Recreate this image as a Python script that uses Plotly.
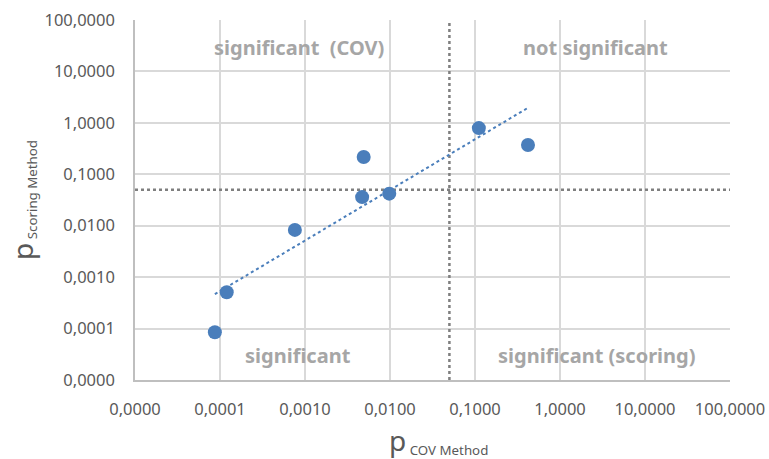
import numpy as np
import plotly.graph_objects as go

# data
p_cov = [8.7e-5, 1.2e-4, 7.6e-4, 4.7e-3, 4.9e-3, 9.8e-3, 0.111, 0.42]
p_scoring = [8.5e-5, 5.1e-4, 8.3e-3, 0.036, 0.217, 0.042, 0.79, 0.37]
threshold = 0.05
tick_vals = [1e-5, 1e-4, 1e-3, 1e-2, 1e-1, 1, 10, 100]
tick_text = ["0,0000", "0,0001", "0,0010", "0,0100", "0,1000", "1,0000", "10,0000", "100,0000"]
region_labels = ["significant  (COV)", "not significant", "significant", "significant (scoring)"]
region_x = [8.5e-4, 2.6, 8.3e-4, 2.75]
region_y = [28.6, 28.6, 2.95e-5, 2.95e-5]

# power trendline (least squares on logs)
lx = np.log10(p_cov)
ly = np.log10(p_scoring)
slope, intercept = np.polyfit(lx, ly, 1)
tx = np.array([min(p_cov), max(p_cov)])
ty = 10 ** (intercept + slope * np.log10(tx))

fig = go.Figure()
fig.add_trace(go.Scatter(x=[tick_vals[0], tick_vals[-1]], y=[threshold, threshold], mode="lines",
                         line=dict(color="#7f7f7f", width=2.5, dash="dot"), hoverinfo="skip"))
fig.add_trace(go.Scatter(x=[threshold, threshold], y=[tick_vals[0], tick_vals[-1]], mode="lines",
                         line=dict(color="#7f7f7f", width=2.5, dash="dot"), hoverinfo="skip"))
fig.add_trace(go.Scatter(x=tx, y=ty, mode="lines",
                         line=dict(color="#4a7ebb", width=2, dash="dot")))
fig.add_trace(go.Scatter(x=p_cov, y=p_scoring, mode="markers",
                         marker=dict(color="#4a7ebb", size=14)))

for t, x, y in zip(region_labels, region_x, region_y):
    fig.add_annotation(x=np.log10(x), y=np.log10(y), text="<b>" + t + "</b>", showarrow=False,
                       font=dict(family="Noto Sans", size=20, color="#a6a6a6"))

fig.add_annotation(xref="paper", yref="paper", x=-0.19, y=0.5, xanchor="center", yanchor="middle",
                   text="<span style='font-size:28px'>p</span><sub> Scoring Method</sub>", textangle=-90,
                   showarrow=False, font=dict(family="Noto Sans", size=19, color="#595959"))
fig.add_annotation(xref="paper", yref="paper", x=0.51, y=-0.168, xanchor="center", yanchor="middle",
                   text="<span style='font-size:28px'>p</span><sub> COV Method</sub>",
                   showarrow=False, font=dict(family="Noto Sans", size=19, color="#595959"))

axis_common = dict(type="log", range=[-5, 2], tickvals=tick_vals, ticktext=tick_text,
                   showgrid=True, gridcolor="#d9d9d9", gridwidth=1.5,
                   showline=True, linecolor="#bfbfbf", linewidth=1.5,
                   zeroline=False, ticks="", automargin=False,
                   tickfont=dict(family="Noto Sans", size=16.5, color="#595959"))

fig.update_layout(
    width=769, height=459,
    margin=dict(l=135, r=39, t=20, b=79),
    paper_bgcolor="white", plot_bgcolor="white",
    showlegend=False,
    xaxis=dict(**axis_common, ticklabelstandoff=13),
    yaxis=dict(**axis_common, ticklabelstandoff=15),
)
fig.write_html("out.html", config={"displayModeBar": False},
               post_script="document.body.style.margin='0';")
